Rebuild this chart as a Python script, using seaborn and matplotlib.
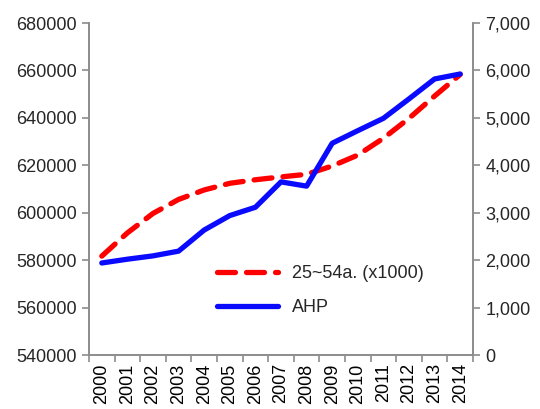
import matplotlib
matplotlib.use("Agg")
import matplotlib.pyplot as plt
import matplotlib.ticker as mticker
import numpy as np
import pandas as pd
import seaborn as sns

years = [str(y) for y in range(2000, 2015)]
pop_25_54 = [581700, 591500, 599700, 605600, 609600, 612400, 613900, 615100,
             616200, 619700, 624300, 631400, 639800, 649200, 658300]
ahp = [1940, 2020, 2090, 2190, 2635, 2940, 3115, 3650,
       3560, 4465, 4730, 4990, 5400, 5820, 5925]

label_pop = "25~54a. (x1000)"
label_ahp = "AHP"

sns.set_theme(style="white")
plt.rcParams["font.family"] = ["Liberation Sans", "DejaVu Sans"]

df = pd.DataFrame({"x": np.arange(len(years)), "pop": pop_25_54, "ahp": ahp})

fig = plt.figure(figsize=(5.4, 4.09), dpi=100)
ax = fig.add_axes([89 / 540, 1 - 355 / 409, (473 - 89) / 540, (355 - 23) / 409])
ax2 = ax.twinx()

sns.lineplot(data=df, x="x", y="pop", ax=ax, color="#ff0000", lw=3.8,
             label=label_pop, legend=False)
ax.lines[0].set_dashes([3.4, 2.1])
ax.lines[0].set_dash_capstyle("round")
sns.lineplot(data=df, x="x", y="ahp", ax=ax2, color="#0a0aff", lw=3.8,
             label=label_ahp, legend=False)
ax2.lines[0].set_solid_capstyle("round")

grey = "#8c8c8c"
ax.set_xlim(-0.5, len(years) - 0.5)
ax.set_ylim(540000, 680000)
ax2.set_ylim(0, 7000)
ax.yaxis.set_major_locator(mticker.MultipleLocator(20000))
ax2.yaxis.set_major_locator(mticker.MultipleLocator(1000))
ax2.yaxis.set_major_formatter(mticker.FuncFormatter(lambda v, p: f"{int(v):,}"))

ax.set_xticks(np.arange(len(years)))
ax.set_xticklabels(years, rotation=90)
ax.set_xticks(np.arange(-0.5, len(years)), minor=True)
ax.tick_params(axis="x", which="major", length=0, pad=6, labelsize=13, colors="black")
ax.tick_params(axis="x", which="minor", length=5, width=1.2, color=grey, bottom=True)
ax.tick_params(axis="y", length=5, width=1.2, color=grey, labelsize=13, left=True, pad=4)
ax2.tick_params(axis="y", length=5, width=1.2, color=grey, labelsize=13, right=True, pad=4)

for a in (ax, ax2):
    a.set_xlabel("")
    a.set_ylabel("")
    a.spines["top"].set_visible(False)
    for s in ("left", "right", "bottom"):
        a.spines[s].set_color(grey)
        a.spines[s].set_linewidth(1.2)

h1, l1 = ax.get_legend_handles_labels()
h2, l2 = ax2.get_legend_handles_labels()
leg = ax2.legend(h1 + h2, l1 + l2, loc="upper left",
                 bbox_to_anchor=(0.333, 0.271), frameon=False, fontsize=13,
                 borderpad=0, borderaxespad=0,
                 handlelength=3.4, handletextpad=0.75, labelspacing=0.95)

fig.savefig("out.png", dpi=100)
